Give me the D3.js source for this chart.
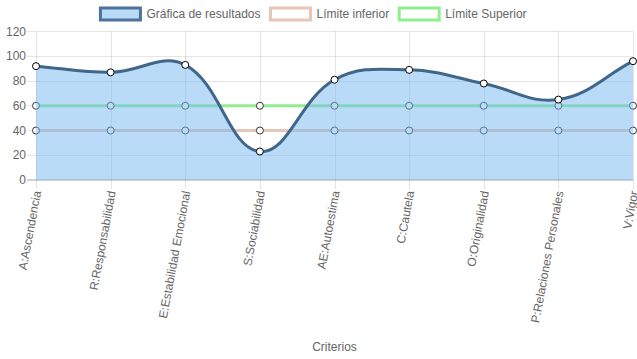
<!DOCTYPE html>
<html><head><meta charset="utf-8">
<script src="https://cdn.jsdelivr.net/npm/d3@7"></script>
<style>html,body{margin:0;padding:0;background:#fff;}svg{display:block;font-family:Arial,"Liberation Sans",Helvetica,sans-serif;}</style>
</head><body><svg id="c" width="637" height="359"></svg>
<script>
const categories = ["A:Ascendencia","R:Responsabilidad","E:Estabilidad Emocional","S:Sociabilidad","AE:Autoestima","C:Cautela","O:Originalidad","P:Relaciones Personales","V:Vigor"];
const resultados = [92, 87, 93, 23, 81, 89, 78, 65, 96];
const limiteInferior = [40, 40, 40, 40, 40, 40, 40, 40, 40];
const limiteSuperior = [60, 60, 60, 60, 60, 60, 60, 60, 60];
const yTicks = [0, 20, 40, 60, 80, 100, 120];
const seriesNames = ["Gráfica de resultados", "Límite inferior", "Límite Superior"];
const axisTitle = "Criterios";

const W = 637, H = 359;
const L = 36, R = 633, T = 31.5, B = 180;
const svg = d3.select("#c");
const x = d3.scalePoint().domain(categories).range([L, R]).padding(0);
const y = d3.scaleLinear().domain([0, 120]).range([B, T]);

// Chart.js-like spline curve (tension 0.4)
function ChartCurve(ctx){ this._context = ctx; }
ChartCurve.prototype = {
  areaStart(){ this._line = 0; },
  areaEnd(){ this._line = NaN; },
  lineStart(){ this._pts = []; },
  point(a, b){ this._pts.push([+a, +b]); },
  lineEnd(){
    const p = this._pts, c = this._context, t = 0.4, n = p.length;
    if (n) {
      const cps = p.map((cur, i) => {
        const prev = p[i-1] || cur, next = p[i+1] || cur;
        const d01 = Math.hypot(cur[0]-prev[0], cur[1]-prev[1]);
        const d12 = Math.hypot(next[0]-cur[0], next[1]-cur[1]);
        let s01 = d01/(d01+d12), s12 = d12/(d01+d12);
        if (isNaN(s01)) s01 = 0; if (isNaN(s12)) s12 = 0;
        const fa = t*s01, fb = t*s12;
        const cap = (q) => [Math.max(L, Math.min(R, q[0])), Math.max(T, Math.min(B, q[1]))];
        return {
          prev: cap([cur[0] - fa*(next[0]-prev[0]), cur[1] - fa*(next[1]-prev[1])]),
          next: cap([cur[0] + fb*(next[0]-prev[0]), cur[1] + fb*(next[1]-prev[1])])
        };
      });
      if (this._line) c.lineTo(p[0][0], p[0][1]); else c.moveTo(p[0][0], p[0][1]);
      for (let i = 1; i < n; i++) {
        c.bezierCurveTo(cps[i-1].next[0], cps[i-1].next[1], cps[i].prev[0], cps[i].prev[1], p[i][0], p[i][1]);
      }
    }
    if (this._line) c.closePath();
    this._line = 1 - this._line;
  }
};
const chartCurve = ctx => new ChartCurve(ctx);

// Grid
const grid = svg.append("g");
yTicks.forEach(v => {
  grid.append("line").attr("x1", 27).attr("x2", R).attr("y1", y(v)).attr("y2", y(v))
    .attr("stroke", v === 0 ? "rgba(0,0,0,0.18)" : "rgba(0,0,0,0.1)").attr("stroke-width", v === 0 ? 2 : 1)
    .attr("shape-rendering", "crispEdges");
});
categories.forEach(cat => {
  grid.append("line").attr("x1", Math.round(x(cat))+0.5).attr("x2", Math.round(x(cat))+0.5).attr("y1", T).attr("y2", 189)
    .attr("stroke", "rgba(0,0,0,0.1)").attr("stroke-width", 1);
});

// Y tick labels
svg.append("g").selectAll("text").data(yTicks).join("text")
  .attr("x", 26).attr("y", d => y(d)).attr("dy", "0.35em").attr("text-anchor", "end")
  .attr("font-size", 12).attr("fill", "#666").text(d => d);

// X labels
svg.append("g").selectAll("text").data(categories).join("text")
  .attr("transform", d => `translate(${x(d)+1},191) rotate(-79.5)`)
  .attr("text-anchor", "end").attr("dy", "0.35em")
  .attr("font-size", 12).attr("fill", "#666").text(d => d);

// Axis title
svg.append("text").attr("x", (L+R)/2).attr("y", 347).attr("dy", "0.35em").attr("text-anchor", "middle")
  .attr("font-size", 12).attr("fill", "#666").text(axisTitle);

const line = d3.line().x((d,i) => x(categories[i])).y(d => y(d)).curve(chartCurve);
const area = d3.area().x((d,i) => x(categories[i])).y0(y(0)).y1(d => y(d)).curve(chartCurve);

function drawPoints(data, fill, stroke, r){
  svg.append("g").selectAll("circle").data(data).join("circle")
    .attr("cx", (d,i) => x(categories[i])).attr("cy", d => y(d)).attr("r", r)
    .attr("fill", fill).attr("stroke", stroke).attr("stroke-width", 1);
}

// Datasets drawn in reverse order
svg.append("path").datum(limiteSuperior).attr("d", line).attr("fill", "none").attr("stroke", "#90ee90").attr("stroke-width", 3);
drawPoints(limiteSuperior, "#fff", "#333", 3.5);
svg.append("path").datum(limiteInferior).attr("d", line).attr("fill", "none").attr("stroke", "#e6c6b8").attr("stroke-width", 3);
drawPoints(limiteInferior, "#fff", "#333", 3.5);

svg.append("path").datum(resultados).attr("d", area).attr("fill", "rgba(115,183,240,0.5)");
svg.append("path").datum(resultados).attr("d", line).attr("fill", "none").attr("stroke", "#40668a").attr("stroke-width", 3);
drawPoints(resultados, "#fff", "#000", 3.5);

// Legend
const legendStyles = [
  {fill: "#b9dbf7", stroke: "#4d739a"},
  {fill: "#fff", stroke: "#e6c6b8"},
  {fill: "#fff", stroke: "#90ee90"}
];
const lg = svg.append("g");
const items = seriesNames.map((name, i) => {
  const g = lg.append("g");
  g.append("rect").attr("x", 0).attr("y", 8).attr("width", 40).attr("height", 12)
    .attr("fill", legendStyles[i].fill).attr("stroke", legendStyles[i].stroke).attr("stroke-width", 3);
  const t = g.append("text").attr("x", 46).attr("y", 14).attr("dy", "0.35em")
    .attr("font-size", 12).attr("fill", "#666").text(name);
  return {g, w: 46 + t.node().getComputedTextLength() + 10};
});
const total = d3.sum(items, d => d.w);
let cx = (W - total) / 2;
items.forEach(it => { it.g.attr("transform", `translate(${cx},0)`); cx += it.w; });
</script></body></html>
